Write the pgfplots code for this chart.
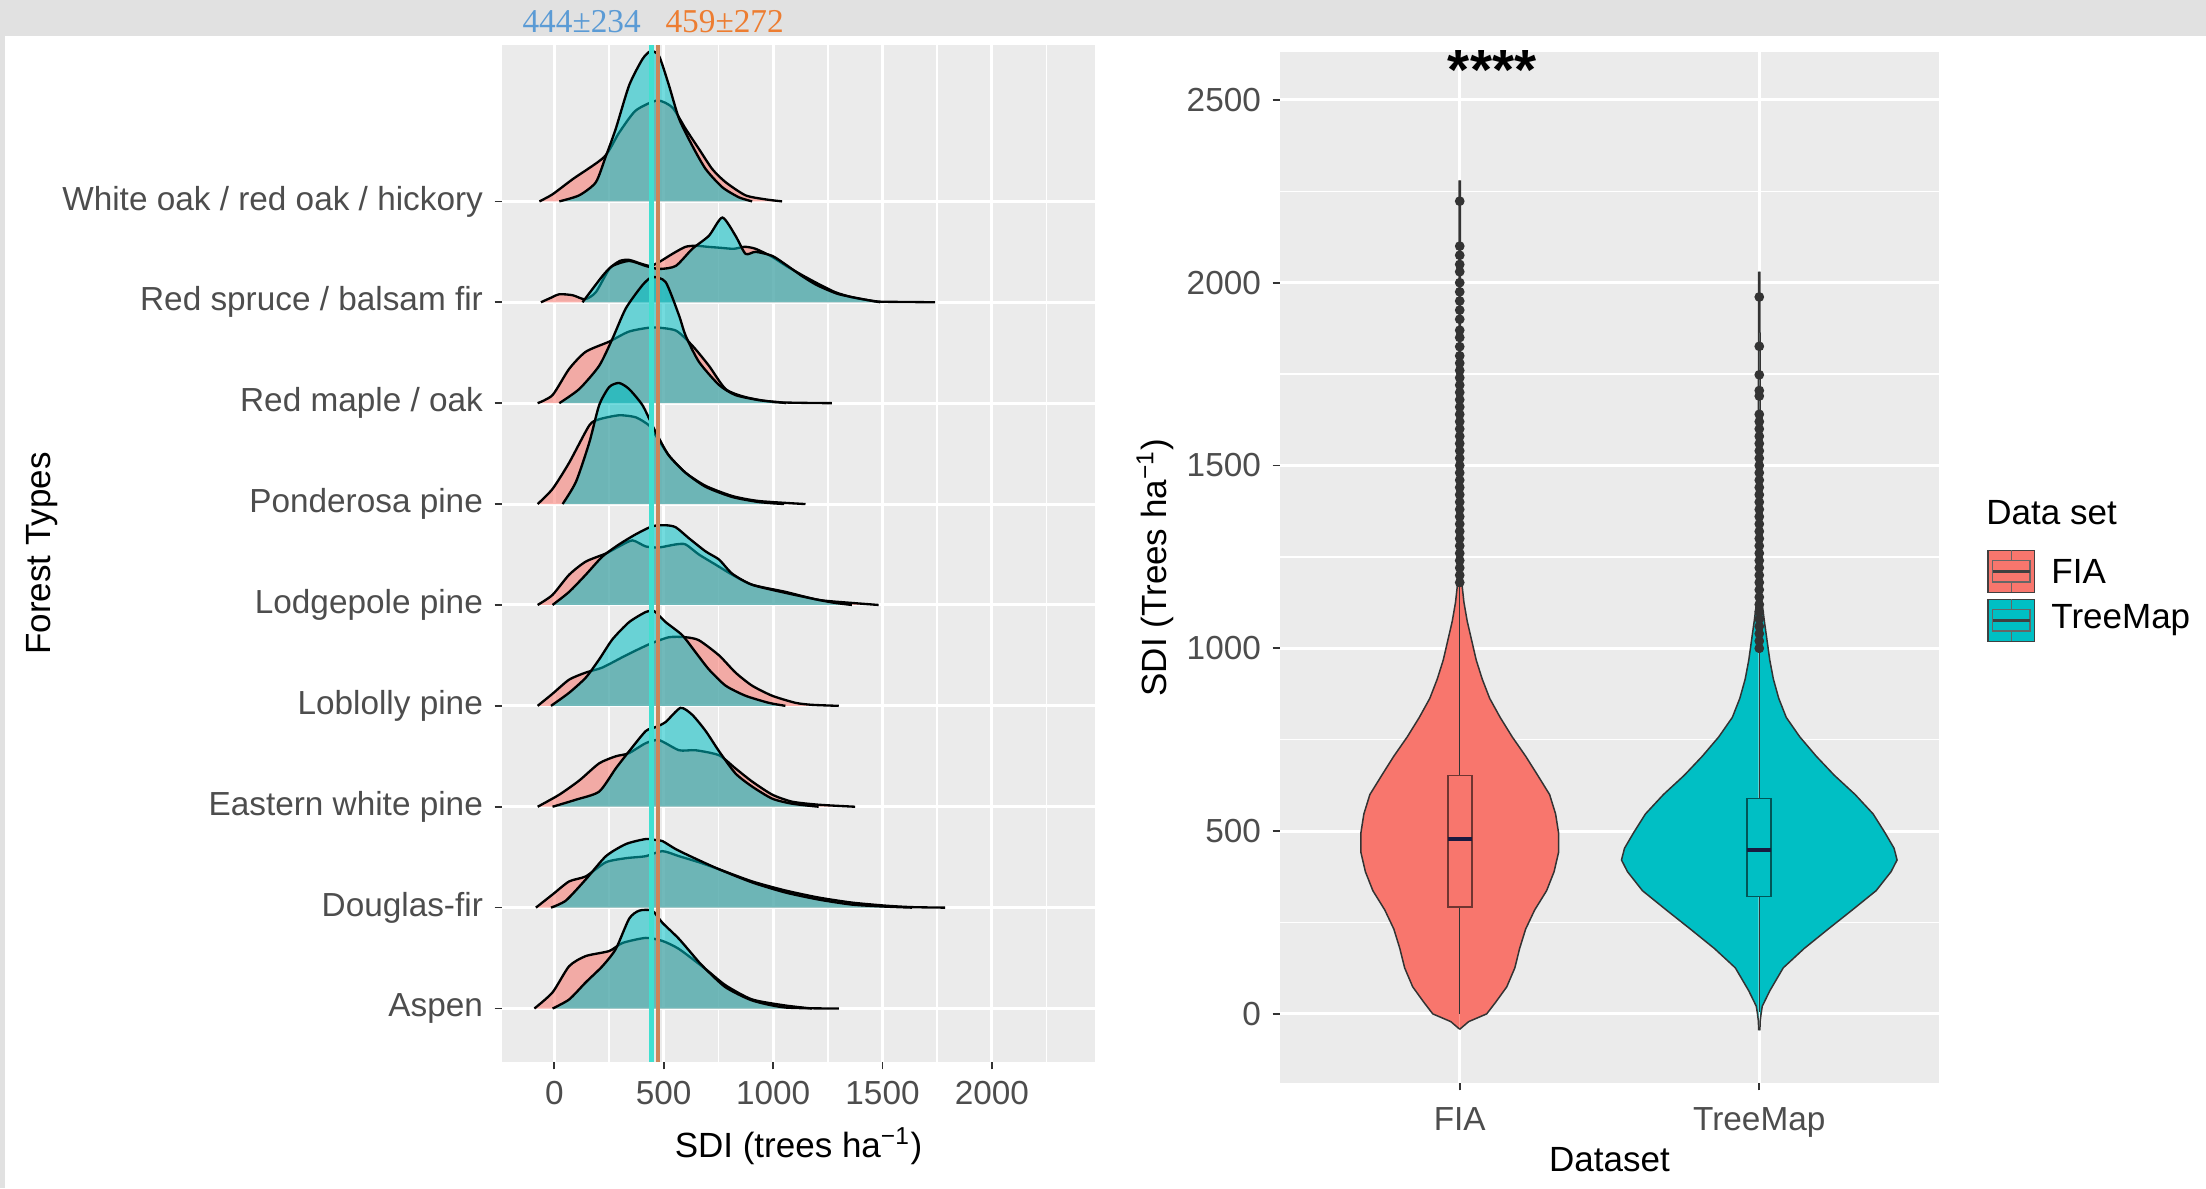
\documentclass[border=0pt]{standalone}
\usepackage{fontspec}
\setmainfont{Liberation Sans}
\newfontfamily\labelserif{Liberation Serif}
\usepackage{pgfplots}
\usepackage{pgfplotstable}
\pgfplotsset{compat=1.18}

\definecolor{fia}{HTML}{F8766D}
\definecolor{tm}{HTML}{00BFC4}
\definecolor{panel}{HTML}{EBEBEB}
\definecolor{band}{HTML}{E1E1E1}
\definecolor{tickgray}{HTML}{4D4D4D}
\definecolor{tickline}{HTML}{333333}
\definecolor{meanteal}{HTML}{40E0D0}
\definecolor{meanorange}{RGB}{205,133,90}
\definecolor{lblblue}{HTML}{5B9BD5}
\definecolor{lblorange}{HTML}{ED7D31}
\definecolor{mednavy}{HTML}{1A1A40}

\newcommand\fs[1]{\fontsize{#1}{#1}\selectfont}

% ridge densities: v = SDI, h = height in row units
\pgfplotstableread{
v h
-68 0
-8 0.07
84 0.22
228 0.44
296 0.68
372 0.90
471 1.00
540 0.93
600 0.72
661 0.52
722 0.32
783 0.19
874 0.06
965 0.02
1041 0
}\wof
\pgfplotstableread{
v h
23 0
114 0.06
190 0.19
236 0.45
281 0.72
342 1.15
403 1.41
441 1.49
479 1.44
524 1.15
570 0.82
631 0.55
692 0.32
768 0.14
844 0.04
904 0
}\wot
\pgfplotstableread{
v h
-61 0
-10 0.05
23 0.08
84 0.07
140 0.03
190 0.10
251 0.33
300 0.41
342 0.42
400 0.38
440 0.36
480 0.40
540 0.48
600 0.55
650 0.56
700 0.55
760 0.54
820 0.53
870 0.55
920 0.53
996 0.45
1060 0.36
1132 0.27
1200 0.19
1284 0.10
1360 0.05
1436 0.02
1490 0.006
1600 0.003
1740 0
}\rsf
\pgfplotstableread{
v h
129 0
220 0.26
266 0.36
342 0.41
418 0.36
479 0.33
555 0.36
631 0.53
707 0.66
768 0.84
828 0.66
874 0.48
920 0.50
996 0.46
1060 0.37
1132 0.26
1200 0.17
1300 0.08
1436 0.02
1490 0
}\rst
\pgfplotstableread{
v h
-76 0
-8 0.08
68 0.34
144 0.51
251 0.61
342 0.71
448 0.75
555 0.72
631 0.57
707 0.37
783 0.14
874 0.06
1011 0.01
1269 0
}\rmf
\pgfplotstableread{
v h
23 0
114 0.14
205 0.37
266 0.64
327 0.94
403 1.17
448 1.25
509 1.20
570 0.87
600 0.67
661 0.41
753 0.18
828 0.08
935 0.03
1026 0.01
1060 0
}\rmt
\pgfplotstableread{
v h
-76 0
-8 0.15
68 0.41
160 0.78
205 0.84
296 0.88
372 0.86
433 0.78
464 0.68
524 0.48
600 0.31
692 0.18
813 0.08
935 0.03
1148 0
}\ppf
\pgfplotstableread{
v h
38 0
99 0.22
160 0.61
205 0.98
251 1.16
296 1.20
342 1.14
403 0.98
448 0.78
479 0.65
524 0.48
600 0.31
692 0.17
813 0.07
935 0.02
1050 0
}\ppt
\pgfplotstableread{
v h
-76 0
-8 0.10
68 0.30
144 0.43
236 0.51
296 0.58
357 0.64
418 0.58
479 0.57
555 0.60
600 0.60
661 0.50
737 0.40
813 0.30
904 0.20
1056 0.13
1208 0.05
1360 0.02
1482 0
}\lpf
\pgfplotstableread{
v h
-8 0
68 0.13
144 0.30
220 0.48
296 0.60
372 0.70
448 0.78
509 0.79
555 0.77
616 0.66
692 0.53
753 0.45
813 0.31
904 0.20
1056 0.12
1208 0.05
1284 0.02
1360 0
}\lpt
\pgfplotstableread{
v h
-76 0
-8 0.12
68 0.26
144 0.33
220 0.38
327 0.50
433 0.61
524 0.68
600 0.68
661 0.65
753 0.50
828 0.33
904 0.20
996 0.10
1102 0.03
1178 0.01
1300 0
}\lbf
\pgfplotstableread{
v h
-15 0
68 0.13
144 0.28
205 0.46
266 0.66
342 0.83
418 0.93
456 0.94
509 0.83
585 0.70
646 0.53
707 0.36
783 0.20
874 0.10
980 0.03
1056 0
}\lbt
\pgfplotstableread{
v h
-76 0
23 0.12
114 0.26
205 0.43
281 0.50
340 0.53
418 0.63
479 0.66
570 0.56
646 0.56
753 0.51
828 0.38
904 0.25
996 0.12
1087 0.05
1208 0.02
1375 0
}\ewf
\pgfplotstableread{
v h
-8 0
99 0.07
205 0.15
281 0.38
342 0.55
418 0.75
464 0.79
509 0.84
577 0.98
631 0.91
692 0.75
753 0.55
828 0.33
904 0.20
996 0.08
1087 0.03
1208 0
}\ewt
\pgfplotstableread{
v h
-84 0
-8 0.13
68 0.26
144 0.31
236 0.45
327 0.49
418 0.51
494 0.56
570 0.51
661 0.45
753 0.38
904 0.26
1056 0.17
1208 0.10
1360 0.05
1512 0.02
1634 0.005
1786 0
}\dff
\pgfplotstableread{
v h
-15 0
53 0.07
144 0.28
236 0.51
327 0.63
418 0.68
464 0.67
494 0.66
555 0.58
631 0.50
753 0.38
904 0.25
1056 0.15
1208 0.08
1360 0.03
1512 0.01
1634 0
}\dft
\pgfplotstableread{
v h
-91 0
-8 0.16
68 0.42
144 0.52
251 0.57
312 0.65
418 0.70
494 0.67
570 0.59
692 0.39
783 0.23
904 0.09
1056 0.03
1178 0
}\asf
\pgfplotstableread{
v h
-8 0
68 0.09
144 0.26
220 0.42
281 0.59
342 0.89
388 0.97
448 0.97
494 0.85
570 0.69
661 0.46
692 0.39
783 0.21
904 0.08
1056 0.01
1300 0
}\ast

% violins: y = SDI, w = half width in category units
\pgfplotstableread{
y w
-42 0
-21 0.03
0 0.09
32 0.12
74 0.157
126 0.184
179 0.20
232 0.22
284 0.25
337 0.29
389 0.315
442 0.33
495 0.33
547 0.32
600 0.30
653 0.26
705 0.22
758 0.175
811 0.135
863 0.10
916 0.075
968 0.055
1021 0.04
1074 0.025
1126 0.014
1179 0.007
1230 0.003
2280 0.002
}\vfia
\pgfplotstableread{
y w
-45 0.002
-20 0.003
0 0.006
21 0.01
63 0.035
126 0.08
179 0.15
232 0.23
284 0.31
337 0.39
389 0.44
421 0.46
453 0.45
495 0.42
547 0.38
600 0.32
653 0.25
705 0.19
758 0.135
811 0.09
863 0.065
916 0.047
968 0.035
1021 0.026
1074 0.017
1126 0.009
1150 0.004
2030 0.002
}\vtm

\newcommand\ridge[3]{%
  \addplot[draw=none, fill=#2, fill opacity=0.55, smooth, tension=0.4]
    table[x=v, y expr=\thisrow{h}+#3] {#1} -- cycle;
  \addplot[black, line width=0.7pt, smooth, tension=0.4]
    table[x=v, y expr=\thisrow{h}+#3] {#1};
}
% violin: both halves filled, closed along the centre line, then outlined
\newcommand\violin[3]{%
  \addplot[draw=none, fill=#2] table[x expr=#3-\thisrow{w}, y=y] {#1} -- cycle;
  \addplot[draw=none, fill=#2] table[x expr=#3+\thisrow{w}, y=y] {#1} -- cycle;
  \addplot[tickline, line width=0.45pt] table[x expr=#3-\thisrow{w}, y=y] {#1};
  \addplot[tickline, line width=0.45pt] table[x expr=#3+\thisrow{w}, y=y] {#1};
}

\pgfplotsset{
  gg/.style={
    scale only axis,
    axis background/.style={fill=panel},
    axis line style={draw=none},
    tick pos=left,
    tick align=outside,
    major tick length=2.2pt,
    minor tick length=0pt,
    tick style={tickline, line width=0.5pt},
    major grid style={white, line width=0.9pt},
    minor grid style={white, line width=0.45pt},
    ticklabel style={font=\fs{10}, text=tickgray},
    label style={font=\fs{10.5}},
    /pgf/number format/assume math mode=true,
    /pgf/number format/1000 sep={},
  },
}

\begin{document}
\begin{tikzpicture}
\path[use as bounding box] (0,0) rectangle (661.8pt,356.4pt);
\fill[band] (0,345.6pt) rectangle (661.8pt,356.4pt);
\fill[band] (0,0) rectangle (1.5pt,356.4pt);

\node[font=\labelserif\fs{10}, text=lblblue] at (174.5pt,349.8pt) {444±234};
\node[font=\labelserif\fs{10}, text=lblorange] at (217.4pt,349.8pt) {459±272};

% ridgeline panel
\begin{axis}[gg,
  at={(150.6pt,37.8pt)}, anchor=south west,
  width=177.9pt, height=305.1pt,
  xmin=-239, xmax=2471, ymin=0.47, ymax=10.55,
  xtick={0,500,1000,1500,2000},
  minor xtick={250,750,1250,1750,2250},
  ytick={1,2,3,4,5,6,7,8,9},
  yticklabels={Aspen,Douglas-fir,Eastern white pine,Loblolly pine,Lodgepole pine,Ponderosa pine,Red maple / oak,Red spruce / balsam fir,White oak / red oak / hickory},
  xmajorgrids, xminorgrids, ymajorgrids,
  xlabel={SDI (trees ha\textsuperscript{−1})},
  ylabel={Forest Types},
  ylabel shift=-5.5pt,
]
\ridge{\wof}{fia}{9}
\ridge{\wot}{tm}{9}
\ridge{\rsf}{fia}{8}
\ridge{\rst}{tm}{8}
\ridge{\rmf}{fia}{7}
\ridge{\rmt}{tm}{7}
\ridge{\ppf}{fia}{6}
\ridge{\ppt}{tm}{6}
\ridge{\lpf}{fia}{5}
\ridge{\lpt}{tm}{5}
\ridge{\lbf}{fia}{4}
\ridge{\lbt}{tm}{4}
\ridge{\ewf}{fia}{3}
\ridge{\ewt}{tm}{3}
\ridge{\dff}{fia}{2}
\ridge{\dft}{tm}{2}
\ridge{\asf}{fia}{1}
\ridge{\ast}{tm}{1}
% means
\addplot[meanteal, line width=1.3pt] coordinates {(444,0.47) (444,10.55)};
\addplot[meanorange, line width=1.3pt] coordinates {(474,0.47) (474,10.55)};
\end{axis}

% violin panel
\begin{axis}[gg,
  at={(384pt,31.5pt)}, anchor=south west,
  width=197.7pt, height=309.3pt,
  xmin=0.4, xmax=2.6, ymin=-189, ymax=2631,
  clip=false,
  xtick={1,2}, xticklabels={FIA,TreeMap},
  ytick={0,500,1000,1500,2000,2500},
  minor ytick={250,750,1250,1750,2250},
  xmajorgrids, ymajorgrids, yminorgrids,
  xlabel={Dataset},
  ylabel={SDI (Trees ha\textsuperscript{−1})},
  ylabel shift=-3pt,
  xticklabel shift=1.7pt,
  xlabel shift=-3.8pt,
]
\violin{\vfia}{fia}{1}
\violin{\vtm}{tm}{2}

% box plots: whiskers, box (quartiles), median
\addplot[tickline, line width=0.45pt] coordinates {(1,0) (1,292)};
\addplot[tickline, line width=0.45pt] coordinates {(1,652) (1,1175)};
\addplot[draw=fia!45!black, fill=fia, line width=0.5pt]
  coordinates {(0.96,292) (1.04,292) (1.04,652) (0.96,652)} -- cycle;
\addplot[mednavy, line width=1.2pt] coordinates {(0.96,479) (1.04,479)};
\addplot[tickline, line width=0.45pt] coordinates {(2,5) (2,321)};
\addplot[tickline, line width=0.45pt] coordinates {(2,589) (2,990)};
\addplot[draw=tm!45!black, fill=tm, line width=0.5pt]
  coordinates {(1.96,321) (2.04,321) (2.04,589) (1.96,589)} -- cycle;
\addplot[mednavy, line width=1.2pt] coordinates {(1.96,449) (2.04,449)};

\addplot[only marks, mark=*, mark size=1.25pt, color=tickline] coordinates {
(1,1180) (1,1200) (1,1220) (1,1240) (1,1260) (1,1280) (1,1300) (1,1320) (1,1340) (1,1360)
(1,1380) (1,1400) (1,1420) (1,1440) (1,1460) (1,1480) (1,1500) (1,1520) (1,1540) (1,1560)
(1,1580) (1,1600) (1,1620) (1,1640) (1,1660) (1,1680) (1,1700) (1,1720) (1,1740) (1,1760)
(1,1780) (1,1800) (1,1825) (1,1850) (1,1870) (1,1900) (1,1925) (1,1950) (1,1975) (1,2000)
(1,2030) (1,2050) (1,2075) (1,2100) (1,2223)
(2,1000) (2,1020) (2,1040) (2,1060) (2,1080) (2,1100) (2,1120) (2,1140) (2,1160) (2,1180)
(2,1200) (2,1220) (2,1240) (2,1260) (2,1280) (2,1300) (2,1320) (2,1340) (2,1360) (2,1380)
(2,1400) (2,1420) (2,1440) (2,1460) (2,1480) (2,1500) (2,1520) (2,1540) (2,1560) (2,1580)
(2,1600) (2,1620) (2,1640) (2,1690) (2,1705) (2,1748) (2,1826) (2,1961)
};

\node[font=\bfseries\fs{17}] at (axis cs:1.108,2582) {****};
\end{axis}

% legend
\node[anchor=west, font=\fs{10.5}] at (592.4pt,202.5pt) {Data set};
\begin{scope}[shift={(596.4pt,185pt)}]
  \foreach \c/\lab [count=\i from 0] in {fia/FIA,tm/TreeMap} {
    \begin{scope}[yshift=-\i*14.7pt]
      \draw[fill=\c, draw=black!75, line width=0.4pt] (0pt,-6.3pt) rectangle (14pt,6.3pt);
      \draw[black!60, line width=0.4pt] (1.4pt,-3.2pt) rectangle (12.6pt,3.2pt);
      \draw[black!75, line width=0.9pt] (1.4pt,0pt) -- (12.6pt,0pt);
      \draw[black!60, line width=0.4pt] (7pt,3.2pt) -- (7pt,6.3pt) (7pt,-3.2pt) -- (7pt,-6.3pt);
      \node[anchor=west, font=\fs{10.5}] at (15.5pt,0pt) {\lab};
    \end{scope}
  }
\end{scope}
\end{tikzpicture}
\end{document}
